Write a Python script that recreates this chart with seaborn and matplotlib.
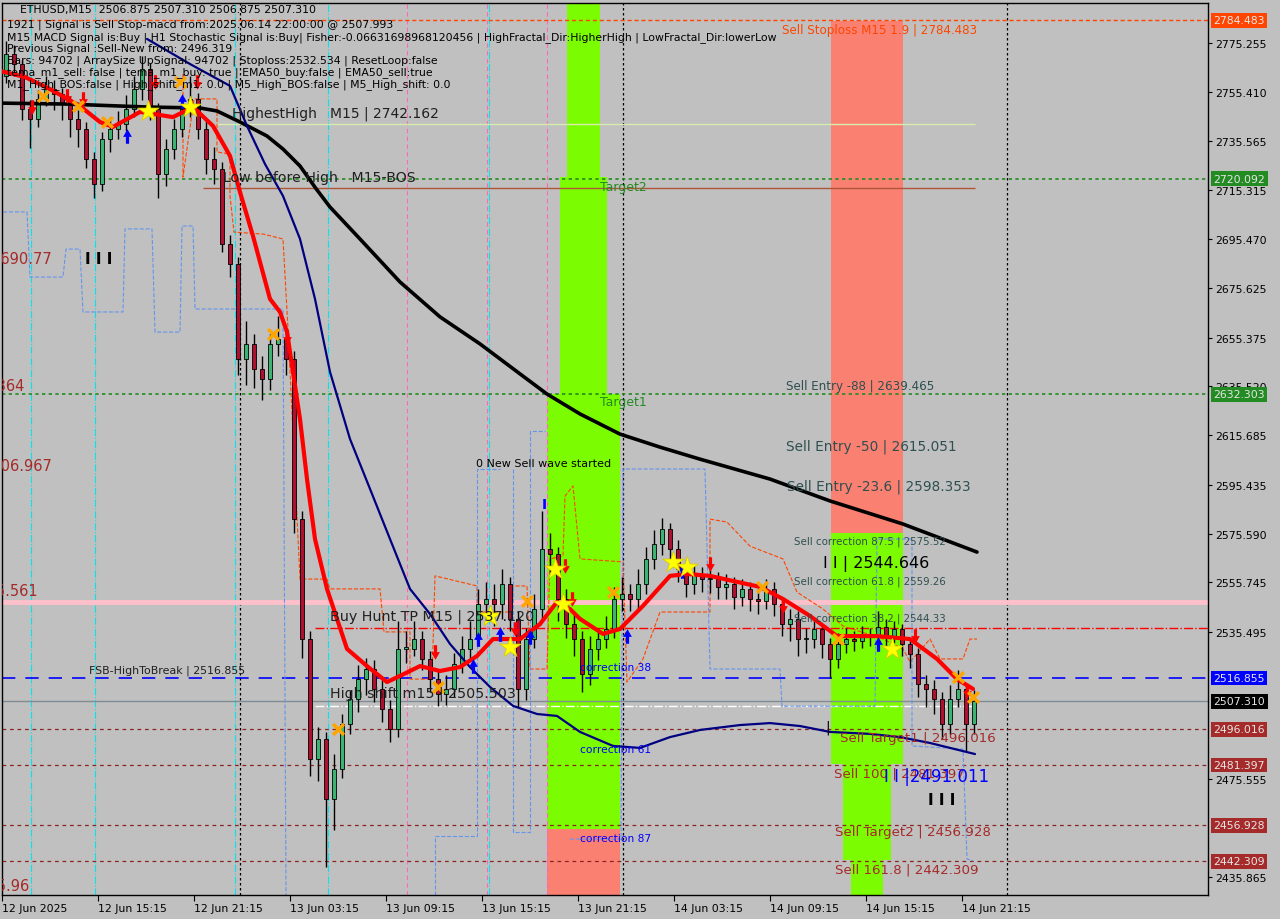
import seaborn as sns
import matplotlib.pyplot as plt
import matplotlib.transforms as mtransforms
from matplotlib.patches import Rectangle
from matplotlib.path import Path
import pandas as pd

# x axis is counted in M15 bars from 12 Jun 2025 09:15, candles are 30 minute bars
first_open = 2762.0
closes = [2770.8, 2766.7, 2748.4, 2744.3, 2752.5, 2756.5, 2754.5, 2750.4, 2744.3, 2740.3,
          2728.0, 2717.9, 2736.2, 2740.3, 2742.3, 2748.4, 2756.5, 2764.7, 2748.4, 2721.9,
          2732.1, 2740.3, 2748.4, 2752.5, 2740.3, 2728.0, 2724.0, 2693.5, 2685.3, 2646.6,
          2652.8, 2642.6, 2638.5, 2652.8, 2654.8, 2646.6, 2581.5, 2532.7, 2483.9, 2492.0,
          2467.6, 2479.8, 2498.1, 2508.3, 2516.4, 2520.5, 2512.4, 2504.2, 2496.1, 2528.7,
          2528.7, 2532.7, 2524.6, 2516.4, 2510.3, 2512.4, 2522.6, 2528.7, 2532.7, 2546.9,
          2549.0, 2546.9, 2555.1, 2540.9, 2512.4, 2532.7, 2544.9, 2569.3, 2567.3, 2549.0,
          2538.8, 2532.7, 2518.5, 2528.7, 2532.7, 2536.8, 2549.0, 2551.0, 2549.0, 2555.1,
          2565.3, 2571.4, 2577.5, 2569.3, 2561.2, 2555.1, 2559.2, 2557.1, 2557.1, 2553.9,
          2555.1, 2549.8, 2553.1, 2549.0, 2548.2, 2553.1, 2546.9, 2538.8, 2540.9, 2532.7,
          2532.7, 2536.8, 2530.7, 2524.6, 2530.7, 2532.7, 2531.9, 2534.8, 2533.5, 2537.6,
          2533.5, 2536.8, 2530.7, 2526.6, 2514.4, 2512.4, 2508.3, 2498.1, 2508.3, 2512.4,
          2498.1, 2507.3]
highs = [2776.0, 2774.5, 2768.5, 2752.0, 2756.0, 2762.0, 2760.0, 2757.0, 2753.5, 2748.0,
         2743.0, 2731.0, 2739.0, 2745.0, 2747.5, 2754.0, 2762.0, 2770.0, 2767.0, 2751.0,
         2736.0, 2744.5, 2753.0, 2762.0, 2755.0, 2744.0, 2733.0, 2727.0, 2697.0, 2688.0,
         2662.0, 2657.0, 2648.0, 2657.0, 2664.0, 2658.0, 2650.0, 2585.0, 2536.0, 2497.0,
         2495.0, 2486.0, 2502.0, 2512.0, 2522.0, 2525.0, 2524.0, 2516.0, 2508.0, 2540.0,
         2536.0, 2540.0, 2536.0, 2528.0, 2520.0, 2518.0, 2527.0, 2534.0, 2540.0, 2553.0,
         2556.0, 2555.0, 2561.0, 2558.0, 2544.0, 2537.0, 2551.0, 2585.0, 2576.0, 2570.0,
         2553.0, 2543.0, 2536.0, 2534.0, 2537.0, 2542.0, 2554.0, 2558.0, 2555.0, 2561.0,
         2570.0, 2577.0, 2582.0, 2580.0, 2573.0, 2565.0, 2563.0, 2562.0, 2561.0, 2560.0,
         2559.0, 2558.0, 2557.0, 2556.0, 2553.0, 2557.0, 2556.0, 2549.0, 2545.0, 2544.0,
         2537.0, 2541.0, 2539.0, 2533.0, 2535.0, 2537.0, 2536.0, 2538.0, 2537.0, 2544.0,
         2541.0, 2540.0, 2539.0, 2533.0, 2529.0, 2518.0, 2516.0, 2511.0, 2514.0, 2520.0,
         2515.0, 2512.0]
lows = [2759.0, 2762.0, 2744.0, 2732.5, 2741.0, 2749.5, 2748.0, 2744.0, 2737.0, 2733.0,
        2724.5, 2712.0, 2715.0, 2731.0, 2736.0, 2739.5, 2745.0, 2752.0, 2744.0, 2712.0,
        2717.0, 2728.0, 2737.0, 2745.0, 2736.0, 2722.0, 2718.0, 2690.0, 2680.0, 2640.0,
        2636.0, 2635.0, 2630.0, 2634.0, 2648.0, 2640.0, 2576.0, 2525.0, 2477.0, 2475.0,
        2440.0, 2455.0, 2476.0, 2494.0, 2503.0, 2510.0, 2507.0, 2499.0, 2491.0, 2493.0,
        2523.0, 2526.0, 2520.0, 2511.0, 2505.5, 2506.0, 2509.0, 2519.0, 2525.0, 2530.0,
        2541.0, 2538.0, 2541.0, 2536.0, 2505.0, 2508.0, 2529.0, 2541.0, 2560.0, 2540.0,
        2533.0, 2526.0, 2511.0, 2514.0, 2524.0, 2529.0, 2533.0, 2544.0, 2544.0, 2545.0,
        2551.0, 2561.0, 2567.0, 2563.0, 2556.0, 2550.0, 2551.0, 2552.0, 2551.5, 2549.0,
        2549.0, 2545.0, 2546.0, 2544.0, 2543.0, 2545.0, 2542.0, 2534.0, 2532.0, 2526.0,
        2527.0, 2529.0, 2525.0, 2517.0, 2521.0, 2527.0, 2528.0, 2529.0, 2530.0, 2530.0,
        2529.0, 2531.0, 2526.0, 2521.0, 2509.0, 2505.0, 2502.0, 2492.0, 2494.0, 2505.0,
        2487.0, 2494.0]

# moving averages (time in M15 bars, price)
red_t = [-1, 5.25, 11.5, 19, 24, 27.25, 34, 37.25, 42.25, 47.25, 52.25, 56.5, 59, 62.25, 66.5, 69,
         70.75, 74, 75.75, 77.75, 80.75, 85.75, 90.75, 95.75, 99, 104, 109, 114, 118.25, 122.25,
         129, 134, 138.25, 141.5, 144, 149.75, 154, 159.75, 166.5, 170.75, 176.5, 189, 194.75,
         201.5, 208.25, 218.25, 226.5, 233.25, 238.25, 242.25]
red_p = [2763.9, 2761.4, 2756.5, 2749.6, 2743.1, 2741.1, 2747.2, 2746.4, 2745.1, 2749.2, 2741.5,
         2729.3, 2714.6, 2696.7, 2671.1, 2665.8, 2657.7, 2622.2, 2597.8, 2573.4, 2553.1, 2528.7,
         2521.7, 2515.2, 2517.7, 2521.7, 2519.7, 2521.3, 2525.8, 2532.7, 2532.7, 2538.8, 2547.8,
         2544.9, 2540.9, 2534.8, 2536.8, 2546.2, 2558.4, 2559.2, 2558.4, 2553.9, 2549.0, 2542.1,
         2533.9, 2533.9, 2532.7, 2524.6, 2516.4, 2512.4]
black_t = [-1, 15.75, 35.75, 49, 53.25, 59, 65.75, 69.75, 74, 78, 81.5, 89, 99, 109, 119, 129,
           135.75, 144, 154, 164, 174, 191.5, 206.5, 224.75, 243.25]
black_p = [2750.8, 2750.4, 2749.2, 2748.8, 2747.6, 2743.1, 2737.4, 2732.1, 2725.2, 2716.0,
           2708.5, 2695.5, 2678.0, 2663.8, 2652.8, 2640.6, 2632.4, 2624.3, 2616.1, 2610.8,
           2605.9, 2597.8, 2588.9, 2579.5, 2568.1]
navy_t = [35.75, 46.5, 56.5, 60.75, 65.25, 69.75, 74, 77.75, 81.5, 86.5, 91.5, 96.5, 101.5, 106.5,
          111.5, 116.5, 121.5, 127.25, 133.25, 138.25, 144, 152.25, 159, 166.5, 174, 184, 191.5,
          199, 206.5, 216.5, 224, 231.5, 237.75, 242.75]
navy_p = [2776.9, 2766.7, 2757.8, 2741.5, 2726.0, 2713.0, 2695.5, 2671.1, 2641.4, 2614.1, 2593.8,
          2573.4, 2553.1, 2542.9, 2530.7, 2521.3, 2513.2, 2505.5, 2502.2, 2501.4, 2494.9, 2489.2,
          2488.4, 2492.8, 2495.7, 2497.7, 2498.5, 2497.3, 2494.9, 2494.1, 2492.8, 2490.4, 2487.9,
          2485.9]

# channel step lines
orange_t = [44.75, 44.75, 47.5, 53.25, 53.25, 56.5, 56.5, 57.5, 64.75, 69.75, 71, 74, 80.75, 81.5,
            94, 95, 101.5, 101.5, 107, 107.75, 118.25, 118.25, 127, 127.25, 130.75, 131.5, 135.75,
            136.5, 139.75, 140.25, 142.25, 144, 154.75, 155.75, 159.75, 164, 176.5, 176.5, 180.75,
            186.5, 194.75, 198.25, 204.75, 209.75, 219.75, 224.75, 226.5, 231.5, 234, 239.75,
            241.5, 243.25]
orange_p = [2762.6, 2720.7, 2752.5, 2752.5, 2730.9, 2730.1, 2713.0, 2698.3, 2697.5, 2695.5, 2658.9,
            2557.1, 2557.1, 2553.1, 2553.1, 2535.6, 2535.6, 2516.4, 2516.4, 2558.4, 2554.3, 2543.7,
            2543.7, 2554.3, 2554.3, 2520.5, 2520.5, 2565.3, 2566.5, 2590.9, 2595.0, 2565.3, 2564.1,
            2515.2, 2524.6, 2543.7, 2543.7, 2581.5, 2580.3, 2570.5, 2565.3, 2551.8, 2544.9, 2538.0,
            2532.7, 2528.7, 2523.4, 2532.7, 2524.6, 2524.6, 2532.7, 2532.7]
blue_left_t = [-0.25, 5.75, 6.5, 14.75, 15.5, 19, 19.75, 29.75, 30.25, 37, 37.75, 44, 44.5, 47.25,
               47.75, 69.75, 70.5]
blue_left_p = [2706.5, 2706.5, 2680.0, 2680.0, 2691.4, 2691.4, 2665.8, 2665.8, 2699.6, 2699.6,
               2657.6, 2657.6, 2700.8, 2700.8, 2667.0, 2667.0, 2428.5]
blue_mid_t = [107.75, 107.75, 118.25, 118.25, 124]
blue_mid_p = [2428.5, 2452.6, 2452.6, 2601.9, 2601.9]
blue_mid2_t = [127.25, 127.25, 131.5, 131.5, 135.25]
blue_mid2_p = [2601.9, 2454.2, 2454.2, 2617.3, 2617.3]
blue_right_t = [141.5, 154.25, 154.75, 175.25, 176.5, 194, 194.5, 217.75, 218.25, 227, 227,
                239.75, 240.75, 242.25]
blue_right_p = [2451.3, 2451.3, 2601.9, 2601.9, 2520.5, 2520.5, 2505.4, 2505.4, 2573.4, 2573.4,
                2489.2, 2487.9, 2443.2, 2442.4]

# signal markers
star_t = [36, 46.5, 121.5, 126.5, 137.75, 139.75, 167.25, 170.75, 222]
star_p = [2747.6, 2749.2, 2542.1, 2529.5, 2561.2, 2546.9, 2564.1, 2562.0, 2528.7]
cross_t = [9.75, 18.5, 25.75, 44, 67.25, 83.5, 108.5, 130.75, 152.25, 189.5, 208.5, 238.5, 242.25]
cross_p = [2753.7, 2749.6, 2743.1, 2759.4, 2656.8, 2496.1, 2513.2, 2548.2, 2551.8, 2553.9,
           2532.7, 2517.3, 2509.1]
down_t = [7, 15.75, 19.75, 37.75, 48.25, 70.75, 107.75, 127.75, 140.25, 142, 176.5, 194.75,
          227.75, 240.75]
down_p = [2749.2, 2753.7, 2752.5, 2759.4, 2759.4, 2655.6, 2527.4, 2536.8, 2562.4, 2549.0,
          2563.2, 2546.2, 2533.9, 2511.6]
up_t = [30.75, 44.5, 117.25, 118.5, 124, 131.5, 155.75, 169.5, 218.5]
up_p = [2737.4, 2751.7, 2521.7, 2532.7, 2534.8, 2533.5, 2533.9, 2560.4, 2530.7]

# coloured zones: start, end, low, high
zone_t0 = [140.75, 139.0, 135.75, 135.75, 206.75, 206.75, 209.75, 211.75]
zone_t1 = [149.0, 150.75, 154.0, 154.0, 224.75, 224.75, 221.75, 219.75]
zone_lo = [2720.7, 2632.4, 2455.4, 2420.0, 2575.9, 2481.9, 2442.8, 2420.0]
zone_hi = [2800.0, 2720.7, 2632.4, 2455.4, 2784.2, 2575.9, 2481.9, 2442.8]
zone_col = ['#7CFC00', '#7CFC00', '#7CFC00', '#FA8072', '#FA8072', '#7CFC00', '#7CFC00', '#7CFC00']

# price levels
sell_stoploss = 2784.483
target2_level = 2720.092
target1_level = 2632.303
highest_high = 2742.162
low_before_high = 2716.3
pink_level = 2547.7
buy_hunt_tp = 2537.120
fsb_high = 2516.855
last_price = 2507.310
high_shift = 2505.503
sell_targets = [2496.016, 2481.397, 2456.928, 2442.309]

yticks = [2775.255, 2755.410, 2735.565, 2715.315, 2695.470, 2675.625, 2655.375, 2635.520,
          2615.685, 2595.435, 2575.590, 2555.745, 2535.495, 2475.555, 2435.865]
xtick_pos = [-0.5, 23.5, 47.5, 71.5, 95.5, 119.5, 143.5, 167.5, 191.5, 215.5, 239.5]
xtick_labels = ['12 Jun 2025', '12 Jun 15:15', '12 Jun 21:15', '13 Jun 03:15', '13 Jun 09:15',
                '13 Jun 15:15', '13 Jun 21:15', '14 Jun 03:15', '14 Jun 09:15', '14 Jun 15:15',
                '14 Jun 21:15']

cyan_times = [6.75, 22.75, 57.75, 81, 121.25]
pink_times = [100.75, 120.75, 135.75]
dotted_times = [59, 154.75, 250.75]

opens = [first_open] + closes[:-1]
df = pd.DataFrame({'t': [2 * i + 0.5 for i in range(len(closes))],
                   'open': opens, 'high': highs, 'low': lows, 'close': closes})
df['up'] = df['close'] >= df['open']

sns.set_style('white', rc={'axes.facecolor': '#C0C0C0', 'figure.facecolor': '#C0C0C0',
                           'axes.edgecolor': 'black'})
plt.rcParams['font.family'] = ['DejaVu Sans']

fig = plt.figure(figsize=(12.8, 9.2), dpi=100)
ax = fig.add_axes([2 / 1280, 24 / 920, 1206 / 1280, 892 / 920])
ax.set_xlim(-0.5, 301)
ax.set_ylim(2428.54, 2791.53)

for t0, t1, lo, hi, c in zip(zone_t0, zone_t1, zone_lo, zone_hi, zone_col):
    ax.add_patch(Rectangle((t0, lo), t1 - t0, hi - lo, facecolor=c, edgecolor='none', zorder=0.5))

# vertical markers
for t in cyan_times:
    ax.axvline(t, color='#00E5EE', ls='-.', lw=0.8, zorder=1)
for t in pink_times:
    ax.axvline(t, color='#FF69B4', ls=(0, (4, 3)), lw=0.8, zorder=1)
for t in dotted_times:
    ax.axvline(t, color='black', ls=(0, (2, 2)), lw=0.9, zorder=1)

# horizontal levels
ax.axhline(sell_stoploss, color='#FF4500', ls=(0, (3, 2)), lw=1, zorder=1)
ax.axhline(target2_level, color='#228B22', ls=(0, (2, 2)), lw=1.2, zorder=1)
ax.axhline(target1_level, color='#228B22', ls=(0, (2, 2)), lw=1.2, zorder=1)
ax.hlines(highest_high, 53.0, 242.75, color='#D8ECB0', lw=1, zorder=1)
ax.hlines(low_before_high, 49.75, 242.75, color='#B0553A', lw=1, zorder=1)
ax.axhline(pink_level, color='#FFC0CB', lw=3.5, zorder=1)
ax.hlines(buy_hunt_tp, 77.75, 301, color='red', ls='-.', lw=1, zorder=1)
ax.axhline(fsb_high, color='blue', ls=(0, (8, 6)), lw=1.2, zorder=1)
ax.axhline(last_price, color='#7F8C95', lw=1, zorder=1)
ax.hlines(high_shift, 77.75, 242.0, color='white', ls='-.', lw=1, zorder=1)
for lv in sell_targets:
    ax.axhline(lv, color='#8B2323', ls=(0, (3, 3)), lw=0.9, zorder=1)

# channel lines
sns.lineplot(x=orange_t, y=orange_p, sort=False, estimator=None, color='#FF4500', lw=0.8,
             linestyle='--', ax=ax, zorder=2)
for bt, bp in [(blue_left_t, blue_left_p), (blue_mid_t, blue_mid_p),
               (blue_mid2_t, blue_mid2_p), (blue_right_t, blue_right_p)]:
    sns.lineplot(x=bt, y=bp, sort=False, estimator=None, color='#6495ED', lw=0.8,
                 linestyle='--', ax=ax, zorder=2)

# candles
ax.vlines(df['t'], df['low'], df['high'], color='black', lw=1, zorder=3)
body_bottom = df[['open', 'close']].min(axis=1)
body_height = (df['close'] - df['open']).abs().clip(lower=0.6)
ax.bar(df['t'], body_height, bottom=body_bottom, width=1.2,
       color=df['up'].map({True: '#3CB371', False: '#B01030'}),
       edgecolor='black', linewidth=0.6, zorder=3.2)

# moving averages
sns.lineplot(x=black_t, y=black_p, sort=False, estimator=None, color='black', lw=2.6, ax=ax, zorder=4)
sns.lineplot(x=navy_t, y=navy_p, sort=False, estimator=None, color='#000080', lw=1.6, ax=ax, zorder=4)
sns.lineplot(x=red_t, y=red_p, sort=False, estimator=None, color='#FF0000', lw=3, ax=ax, zorder=4.2)

# markers
down_arrow = Path([(-0.22, 1.0), (0.22, 1.0), (0.22, 0.05), (0.6, 0.05), (0.0, -1.0),
                   (-0.6, 0.05), (-0.22, 0.05), (-0.22, 1.0)], closed=True)
up_arrow = Path([(-0.22, -1.0), (0.22, -1.0), (0.22, -0.05), (0.6, -0.05), (0.0, 1.0),
                 (-0.6, -0.05), (-0.22, -0.05), (-0.22, -1.0)], closed=True)
ax.scatter(down_t, down_p, marker=down_arrow, s=110, color='#FF0000', linewidths=0, zorder=5)
ax.scatter(up_t, up_p, marker=up_arrow, s=110, color='#0000FF', linewidths=0, zorder=5)
ax.scatter(cross_t, cross_p, marker='x', s=60, color='#FFA500', linewidths=2.5, zorder=5)
ax.scatter(star_t, star_p, marker='*', s=260, color='#FFFF00', edgecolors='#D8C800',
           linewidths=0.5, zorder=5.2)

# chart annotations
dark = '#202020'
slate = '#2F4F4F'
brown = '#A52A2A'
ax.text(57, 2746.8, 'HighestHigh   M15 | 2742.162', fontsize=10, color=dark, va='center', zorder=6)
ax.text(54.75, 2720.7, 'Low before High   M15-BOS', fontsize=10.2, color=dark, va='center', zorder=6)
ax.text(149, 2716.7, 'Target2', fontsize=9, color='#228B22', va='center', zorder=6)
ax.text(149, 2629.2, 'Target1', fontsize=9, color='#228B22', va='center', zorder=6)
ax.text(118, 2604.3, '0 New Sell wave started', fontsize=8, color='black', va='center', zorder=6)
ax.text(81.5, 2542.1, 'Buy Hunt TP M15 | 2537.120', fontsize=10.3, color=dark, va='center', zorder=6)
ax.text(21.25, 2520.1, 'FSB-HighToBreak | 2516.855', fontsize=7.9, color=dark, va='center', zorder=6)
ax.text(81.5, 2510.7, 'High shift m15 | 2505.503', fontsize=10.3, color=dark, va='center', zorder=6)
for p, s in [(2521.3, 'correction 38'), (2487.9, 'correction 61'), (2451.7, 'correction 87')]:
    ax.text(144, p, s, fontsize=7.7, color='blue', va='center', zorder=6)
ax.text(194.5, 2780.9, 'Sell Stoploss M15 1.9 | 2784.483', fontsize=8.6, color='#FF4500',
        va='center', zorder=6)
ax.text(195.5, 2636.0, 'Sell Entry -88 | 2639.465', fontsize=8.6, color=slate, va='center', zorder=6)
ax.text(195.5, 2611.3, 'Sell Entry -50 | 2615.051', fontsize=9.8, color=slate, va='center', zorder=6)
ax.text(195.75, 2595.0, 'Sell Entry -23.6 | 2598.353', fontsize=9.8, color=slate, va='center', zorder=6)
ax.text(197.5, 2572.6, 'Sell correction 87.5 | 2575.52', fontsize=7.4, color=slate, va='center', zorder=6)
ax.text(204.75, 2563.6, 'I I | 2544.646', fontsize=11.5, color='black', va='center', zorder=6)
ax.text(197.5, 2556.3, 'Sell correction 61.8 | 2559.26', fontsize=7.4, color=slate, va='center', zorder=6)
ax.text(197.5, 2541.3, 'Sell correction 38.2 | 2544.33', fontsize=7.4, color=slate, va='center', zorder=6)
ax.text(209, 2492.8, 'Sell Target1 | 2496.016', fontsize=9.6, color=brown, va='center', zorder=6)
ax.text(207.5, 2478.2, 'Sell 100 | 2481.397', fontsize=9.6, color=brown, va='center', zorder=6)
ax.text(220, 2476.9, 'I I |2491.011', fontsize=12, color='blue', va='center', zorder=6.2)
ax.text(231, 2467.6, 'I I I', fontsize=11, color='black', fontweight='bold', va='center', zorder=6)
ax.text(207.75, 2454.2, 'Sell Target2 | 2456.928', fontsize=9.6, color=brown, va='center', zorder=6)
ax.text(207.75, 2439.1, 'Sell 161.8 | 2442.309', fontsize=9.6, color=brown, va='center', zorder=6)
ax.text(20.25, 2687.4, 'I I I', fontsize=11, color='black', fontweight='bold', va='center', zorder=6)
ax.text(135, 2587.6, 'I', fontsize=10, color='blue', fontweight='bold', ha='center', va='center', zorder=6)
ax.text(206, 2496.9, '|', fontsize=10, color='black', ha='center', va='center', zorder=6)
for t, p, s in [(12.25, 2687.4, '2690.77'), (5.25, 2635.7, '2639.364'), (12.25, 2603.5, '2606.967'),
                (8.5, 2552.3, '2555.561'), (6.5, 2432.6, '2435.96')]:
    ax.text(t, p, s, fontsize=10.5, color=brown, ha='right', va='center', clip_on=True, zorder=6)

# axes and ticks
ax.yaxis.tick_right()
ax.set_yticks(yticks)
ax.set_yticklabels([f'{v:.3f}' for v in yticks])
ax.set_xticks(xtick_pos)
ax.set_xticklabels(xtick_labels)
for tick in ax.get_xticklabels():
    tick.set_horizontalalignment('left')
ax.tick_params(axis='y', right=True, left=False, length=3, width=0.8, direction='out',
               pad=2, labelsize=7.8, colors='black')
ax.tick_params(axis='x', bottom=True, length=4, width=0.8, direction='out', pad=2,
               labelsize=7.8, colors='black')
for side in ax.spines.values():
    side.set_color('black')
    side.set_linewidth(1)

# price boxes on the right axis
blend = mtransforms.blended_transform_factory(ax.transAxes, ax.transData)
box_levels = [sell_stoploss, target2_level, target1_level, fsb_high, last_price] + sell_targets
box_colors = ['#FF4500', '#228B22', '#228B22', '#0000FF', '#000000',
              '#A52A2A', '#A52A2A', '#A52A2A', '#A52A2A']
for lv, c in zip(box_levels, box_colors):
    ax.text(1.0045, lv, f'{lv:.3f}', transform=blend, fontsize=7.8, color='#E6E6E6',
            ha='left', va='center', clip_on=False, zorder=10,
            bbox=dict(boxstyle='square,pad=0.22', facecolor=c, edgecolor='none'))

# info block
info_lines = [
    'ETHUSD,M15  2506.875 2507.310 2506.875 2507.310',
    '1921 | Signal is Sell Stop-macd from:2025.06.14 22:00:00 @ 2507.993',
    'M15 MACD Signal is:Buy | H1 Stochastic Signal is:Buy| Fisher:-0.06631698968120456 | '
    'HighFractal_Dir:HigherHigh | LowFractal_Dir:lowerLow',
    'Previous Signal :Sell-New from: 2496.319',
    'Bars: 94702 | ArraySize UpSignal: 94702 | Stoploss:2532.534 | ResetLoop:false',
    'tema_m1_sell: false | tema_m1_buy: true | EMA50_buy:false | EMA50_sell:true',
    'M1_High_BOS:false | High_shift_m1: 0.0 | M5_High_BOS:false | M5_High_shift: 0.0',
]
info_y = [10, 25, 38, 49, 61, 73, 85]
for k, (line, yp) in enumerate(zip(info_lines, info_y)):
    xp = 20 if k == 0 else 7
    fig.text(xp / 1280, 1 - yp / 920, line, fontsize=7.8, color='black', va='center', zorder=12)

fig.savefig('out.png', dpi=100, facecolor=fig.get_facecolor())
plt.close()
